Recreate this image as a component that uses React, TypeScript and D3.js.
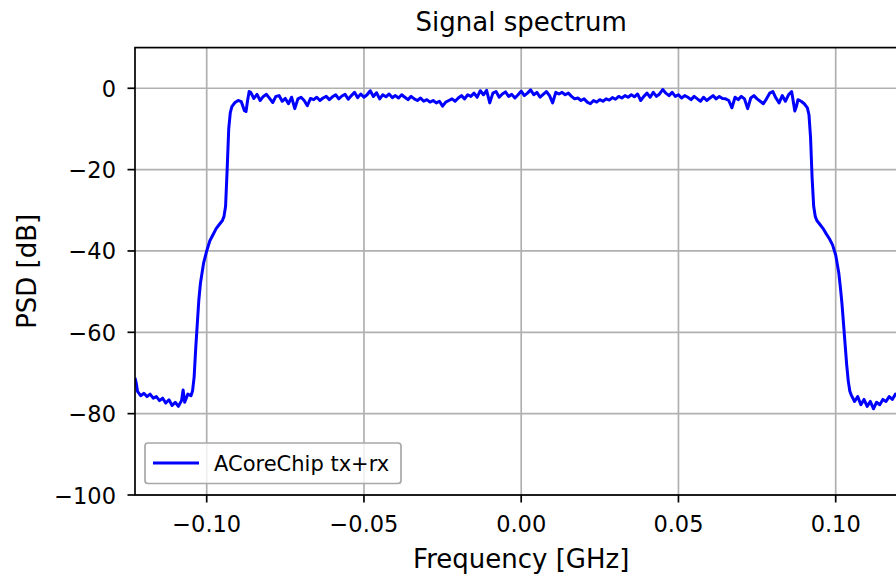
import React from "react";
import * as d3 from "d3";

// [frequency GHz, PSD dB]
const spectrum: [number, number][] = [
  [-0.1228, -71.2], [-0.1224, -72.5], [-0.122, -74.5], [-0.121, -75.6], [-0.12, -75.0],
  [-0.119, -75.8], [-0.118, -75.2], [-0.117, -76.2], [-0.116, -75.8], [-0.115, -76.8],
  [-0.114, -76.2], [-0.113, -77.4], [-0.112, -76.6], [-0.111, -78.0], [-0.11, -77.2],
  [-0.109, -78.2], [-0.108, -76.8], [-0.1075, -74.2], [-0.107, -77.2], [-0.106, -75.2],
  [-0.105, -75.6], [-0.1045, -74.4], [-0.104, -71.0], [-0.1035, -64.0], [-0.103, -58.0],
  [-0.1025, -52.0], [-0.102, -48.0], [-0.101, -43.0], [-0.1, -40.0], [-0.099, -37.5],
  [-0.098, -36.0], [-0.097, -34.5], [-0.096, -33.5], [-0.095, -32.5], [-0.0945, -31.5],
  [-0.094, -29.0], [-0.0935, -20.0], [-0.093, -10.0], [-0.0925, -6.0], [-0.092, -4.5],
  [-0.091, -3.5], [-0.09, -3.0], [-0.089, -3.3], [-0.088, -5.5], [-0.0875, -5.7],
  [-0.087, -3.0], [-0.0865, -0.8],
  [-0.086, -1.0], [-0.085, -2.5], [-0.084, -1.5], [-0.083, -3.0], [-0.082, -2.0],
  [-0.081, -1.5], [-0.08, -2.5], [-0.079, -3.5], [-0.078, -2.0], [-0.077, -1.8],
  [-0.076, -3.2], [-0.075, -2.5], [-0.074, -3.8], [-0.073, -2.2], [-0.072, -5.0],
  [-0.071, -2.6], [-0.07, -2.2], [-0.069, -3.0], [-0.068, -4.3], [-0.067, -2.5],
  [-0.066, -2.8], [-0.065, -2.2], [-0.064, -3.0], [-0.063, -2.4], [-0.062, -2.0],
  [-0.061, -2.8], [-0.06, -2.1], [-0.059, -1.6], [-0.058, -2.6], [-0.057, -1.9],
  [-0.056, -1.5], [-0.055, -2.7], [-0.054, -1.8], [-0.053, -1.0], [-0.052, -2.3],
  [-0.051, -1.4], [-0.05, -2.2], [-0.049, -1.6], [-0.048, -0.6], [-0.047, -2.0],
  [-0.046, -1.1], [-0.045, -2.6], [-0.044, -1.6], [-0.043, -2.1], [-0.042, -1.4],
  [-0.041, -2.3], [-0.04, -1.8], [-0.039, -2.4], [-0.038, -1.6], [-0.037, -2.2],
  [-0.036, -2.8], [-0.035, -2.0], [-0.034, -2.6], [-0.033, -3.0], [-0.032, -2.4],
  [-0.031, -3.2], [-0.03, -2.8], [-0.029, -3.4], [-0.028, -3.0], [-0.027, -3.6],
  [-0.026, -3.2], [-0.025, -4.4], [-0.024, -3.4], [-0.023, -3.0], [-0.022, -2.6],
  [-0.021, -3.2], [-0.02, -2.4], [-0.019, -1.8], [-0.018, -2.6], [-0.017, -1.6],
  [-0.016, -2.0], [-0.015, -1.2], [-0.014, -2.2], [-0.013, -0.6], [-0.012, -1.6],
  [-0.011, -0.5], [-0.01, -3.6], [-0.009, -1.2], [-0.008, -0.8], [-0.007, -2.2],
  [-0.006, -1.4], [-0.005, -0.9], [-0.004, -2.0], [-0.003, -1.5], [-0.002, -2.4],
  [-0.001, -1.6], [0.0, -0.7], [0.001, -1.8], [0.002, -1.2], [0.003, -0.4],
  [0.004, -1.6], [0.005, -1.0], [0.006, -2.2], [0.007, -1.5], [0.008, -0.8],
  [0.009, -1.8], [0.01, -3.6], [0.011, -1.0], [0.012, -1.4], [0.013, -1.0],
  [0.014, -1.6], [0.015, -1.2], [0.016, -2.0], [0.017, -2.6], [0.018, -2.4],
  [0.019, -3.0], [0.02, -2.6], [0.021, -3.4], [0.022, -3.8], [0.023, -3.0],
  [0.024, -3.4], [0.025, -2.8], [0.026, -3.2], [0.027, -2.6], [0.028, -2.9],
  [0.029, -2.3], [0.03, -2.7], [0.031, -2.0], [0.032, -2.4], [0.033, -1.8],
  [0.034, -2.2], [0.035, -1.6], [0.036, -2.1], [0.037, -1.4], [0.038, -3.0],
  [0.039, -2.0], [0.04, -1.2], [0.041, -2.2], [0.042, -1.0], [0.043, -2.0],
  [0.044, -1.4], [0.045, -0.3], [0.046, -1.2], [0.047, -1.8], [0.048, -1.0],
  [0.049, -2.0], [0.05, -1.6], [0.051, -2.4], [0.052, -1.8], [0.053, -2.2],
  [0.054, -2.8], [0.055, -2.0], [0.056, -2.6], [0.057, -3.2], [0.058, -2.2],
  [0.059, -3.0], [0.06, -2.4], [0.061, -1.8], [0.062, -2.6], [0.063, -2.0],
  [0.064, -2.5], [0.065, -2.6], [0.066, -3.0], [0.067, -4.8], [0.068, -2.2],
  [0.069, -2.8], [0.07, -2.0], [0.071, -2.6], [0.072, -5.0], [0.073, -2.4],
  [0.074, -1.8], [0.075, -2.6], [0.076, -3.2], [0.077, -3.8], [0.078, -2.6],
  [0.079, -1.2], [0.08, -0.8], [0.081, -2.4], [0.082, -3.6], [0.083, -1.8],
  [0.084, -3.2], [0.085, -1.6], [0.086, -0.8],
  [0.087, -5.6], [0.0875, -4.5], [0.088, -2.8], [0.089, -3.2], [0.09, -3.8],
  [0.091, -4.8], [0.0915, -6.5], [0.092, -12.0], [0.0925, -22.0], [0.093, -29.0],
  [0.0935, -31.5], [0.094, -32.5], [0.095, -33.5], [0.096, -34.5], [0.097, -35.8],
  [0.098, -37.0], [0.099, -38.5], [0.1, -41.0], [0.101, -45.5], [0.1015, -49.0],
  [0.102, -53.0], [0.1025, -58.0], [0.103, -63.0], [0.1035, -68.0], [0.104, -72.0],
  [0.1045, -74.5], [0.105, -75.5], [0.106, -77.0], [0.107, -75.8], [0.108, -77.8],
  [0.109, -76.5], [0.11, -78.2], [0.111, -77.0], [0.112, -78.8], [0.113, -77.2],
  [0.114, -77.8], [0.115, -76.5], [0.116, -77.0], [0.117, -75.8], [0.118, -76.5],
  [0.119, -75.2], [0.12, -75.8], [0.121, -74.8], [0.122, -75.2], [0.123, -74.5],
];

const xTicks = [-0.1, -0.05, 0, 0.05, 0.1];
const yTicks = [0, -20, -40, -60, -80, -100];
const xDomain: [number, number] = [-0.1228, 0.1228];
const yDomain: [number, number] = [-100, 10];
const seriesLabel = "ACoreChip tx+rx";

const W = 896;
const H = 576;
const left = 135;
const right = 907.4;
const top = 47.6;
const bottom = 495;
const font = "'DejaVu Sans', sans-serif";

const fmtTick = (v: number) => {
  const s = d3.format(".2f")(Math.abs(v));
  return v < 0 ? "\u2212" + s : s;
};
const fmtY = (v: number) => (v < 0 ? "\u2212" + Math.abs(v) : String(v));

export default function App() {
  const x = d3.scaleLinear().domain(xDomain).range([left, right]);
  const y = d3.scaleLinear().domain(yDomain).range([bottom, top]);
  const line = d3
    .line<[number, number]>()
    .x((d) => x(d[0]))
    .y((d) => y(d[1]));

  return (
    <svg
      width={W}
      height={H}
      style={{ position: "absolute", left: 0, top: 0, display: "block", background: "#fff" }}
      fontFamily={font}
    >
      <defs>
        <clipPath id="plot">
          <rect x={left} y={top} width={right - left} height={bottom - top} />
        </clipPath>
      </defs>
      {/* grid */}
      <g stroke="#b0b0b0" strokeWidth={1.7}>
        {xTicks.map((t) => (
          <line key={"gx" + t} x1={x(t)} x2={x(t)} y1={top} y2={bottom} />
        ))}
        {yTicks.map((t) => (
          <line key={"gy" + t} x1={left} x2={right} y1={y(t)} y2={y(t)} />
        ))}
      </g>
      {/* data */}
      <path
        d={line(spectrum) || ""}
        fill="none"
        stroke="#0000ff"
        strokeWidth={3}
        strokeLinejoin="round"
        clipPath="url(#plot)"
      />
      {/* spines */}
      <rect
        x={left}
        y={top}
        width={right - left}
        height={bottom - top}
        fill="none"
        stroke="#000"
        strokeWidth={1.7}
      />
      {/* x ticks */}
      {xTicks.map((t) => (
        <g key={"tx" + t}>
          <line x1={x(t)} x2={x(t)} y1={bottom} y2={bottom + 7.5} stroke="#000" strokeWidth={1.7} />
          <text x={x(t)} y={532} textAnchor="middle" fontSize={22.5} fill="#000">
            {fmtTick(t)}
          </text>
        </g>
      ))}
      {/* y ticks */}
      {yTicks.map((t) => (
        <g key={"ty" + t}>
          <line x1={left - 7.5} x2={left} y1={y(t)} y2={y(t)} stroke="#000" strokeWidth={1.7} />
          <text x={116} y={y(t) + 8.5} textAnchor="end" fontSize={22.5} fill="#000">
            {fmtY(t)}
          </text>
        </g>
      ))}
      {/* labels */}
      <text x={x(0)} y={31} textAnchor="middle" fontSize={26} fill="#000">
        Signal spectrum
      </text>
      <text x={x(0)} y={568} textAnchor="middle" fontSize={26} fill="#000">
        Frequency [GHz]
      </text>
      <text
        transform={`translate(36, ${(top + bottom) / 2}) rotate(-90)`}
        textAnchor="middle"
        fontSize={26}
        fill="#000"
      >
        PSD [dB]
      </text>
      {/* legend */}
      <g>
        <rect x={145} y={443} width={256} height={40.5} rx={3} fill="#fff" fillOpacity={0.8} stroke="#a8a8a8" strokeWidth={1.7} />
        <line x1={153} x2={199} y1={463} y2={463} stroke="#0000ff" strokeWidth={3} />
        <text x={214} y={470.5} fontSize={21} fill="#000">
          {seriesLabel}
        </text>
      </g>
    </svg>
  );
}
